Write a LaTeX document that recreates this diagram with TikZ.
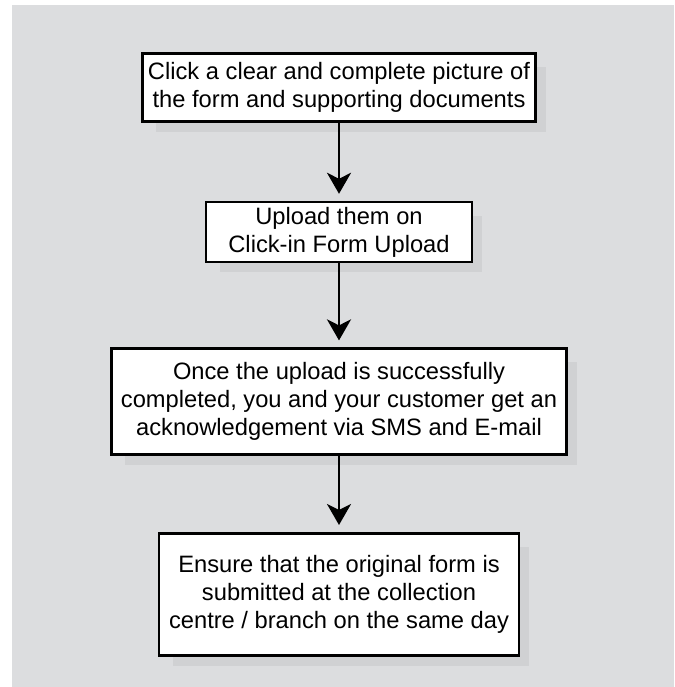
\documentclass[tikz,border=0pt]{standalone}
\usepackage{fontspec}
\setmainfont{Liberation Sans}
\usetikzlibrary{arrows.meta,positioning,backgrounds}
\definecolor{Panel}{HTML}{DCDDDF}
\definecolor{Shade}{HTML}{D0D1D3}

\begin{document}
\begin{tikzpicture}[
  x=1pt,y=1pt,
  box/.style={draw=black,line width=2.6pt,fill=white,align=center,inner sep=2pt,
    font=\fontsize{23.7}{28}\selectfont},
  arrow/.style={-{Stealth[length=21pt,width=24pt,inset=6pt]},line width=2.7pt,shorten >=7pt}]
\useasboundingbox (0,0) rectangle (674,-687);
\node[box,minimum width=393pt,minimum height=68pt](click) at (339,-87.5){Click a clear and complete picture of\\the form and supporting documents};
\node[box,minimum width=266pt,minimum height=60pt,below=78pt of click](upload){Upload them on\\Click-in Form Upload};
\node[box,minimum width=455pt,minimum height=106pt,below=84pt of upload](done){Once the upload is successfully\\completed, you and your customer get an\\acknowledgement via SMS and E-mail};
\node[box,minimum width=360pt,minimum height=122pt,below=76pt of done](ensure){Ensure that the original form is\\submitted at the collection\\centre / branch on the same day};
\draw[arrow](click)--(upload);\draw[arrow](upload)--(done);\draw[arrow](done)--(ensure);
\begin{scope}[on background layer]
\fill[Panel](12,-5) rectangle (674,-687);
\foreach \n in {click,upload,done,ensure}
  \fill[Shade]([shift={(15,-15)}]\n.north west) rectangle ([shift={(9,-9)}]\n.south east);
\end{scope}
\end{tikzpicture}
\end{document}
